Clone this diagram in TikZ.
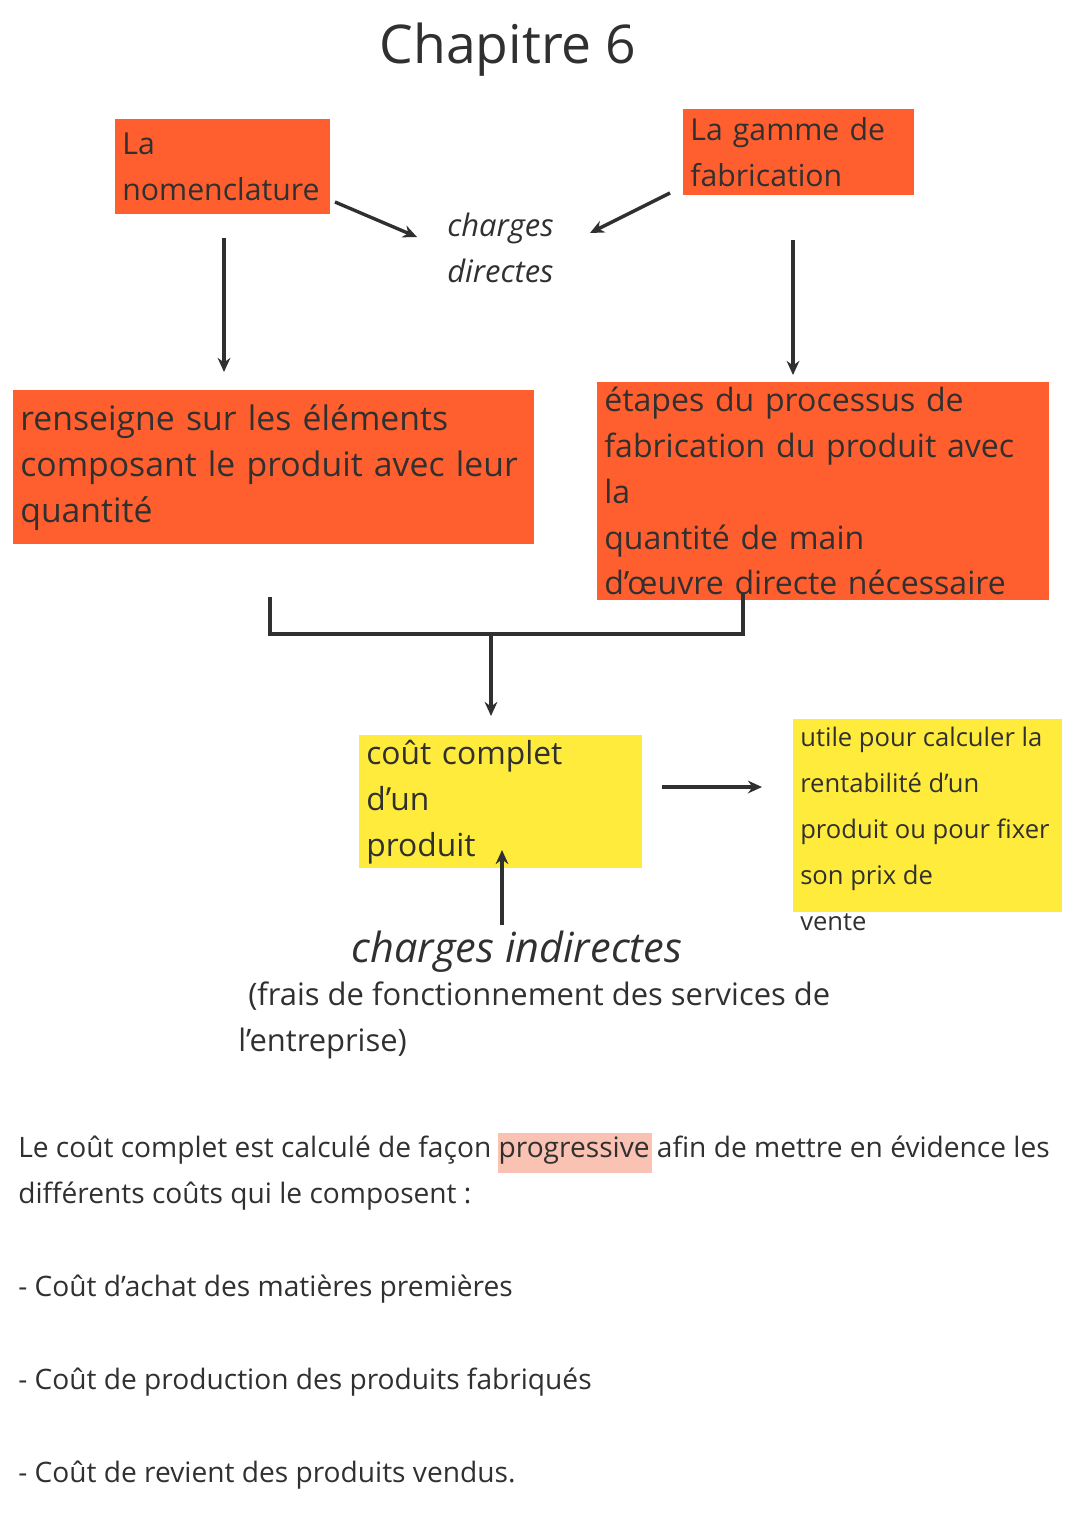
\documentclass[tikz,border=0pt]{standalone}
\usepackage{fontspec}
\setmainfont{Open Sans}
\usetikzlibrary{positioning,arrows.meta}
\definecolor{orangebox}{HTML}{FF5F2E}
\definecolor{yellowbox}{HTML}{FFEB3B}
\definecolor{highlight}{HTML}{F9C2B2}
\definecolor{ink}{HTML}{303030}

\begin{document}
\begin{tikzpicture}[x=0.025cm,y=-0.025cm,
						orange/.style={rectangle,fill=orangebox,anchor=north west,align=left,inner xsep=5pt,text=ink},
						yellow/.style={rectangle,fill=yellowbox,anchor=north west,align=left,inner xsep=5pt,text=ink},
						plain/.style={anchor=north west,align=left,inner sep=0pt,text=ink},
						arrow/.style={draw=ink,line width=2.4pt,-{Stealth[length=10pt,width=9pt]}}]
		\useasboundingbox (0,0) rectangle (1080,1528);
		\node[text=ink,font=\fontsize{38}{40}\selectfont]	(title)	at (508,50)	{Chapitre 6};

		\node[orange,minimum width=215*0.025cm,text width=201*0.025cm,minimum height=95*0.025cm,font=\fontsize{21.5}{32.6}\selectfont]	(nomen)	at (115,119)	{La\\nomenclature};
		\node[orange,minimum width=231*0.025cm,text width=217*0.025cm,minimum height=86*0.025cm,font=\fontsize{21.5}{32.6}\selectfont]	(gamme)	at (683,109)	{La gamme de\\fabrication};
		\node[plain,font=\fontsize{22}{32.6}\itshape]	(direct)	at (447,213)	{charges\\directes};
		\node[orange,minimum width=521*0.025cm,text width=507*0.025cm,minimum height=154*0.025cm,font=\fontsize{24}{32.6}\selectfont]	(rens)	at (13,390)	{renseigne sur les éléments\\composant le produit avec leur\\quantité};
		\node[orange,minimum width=452*0.025cm,text width=438*0.025cm,minimum height=188*0.025cm,font=\fontsize{22.8}{32.6}\selectfont]	(etapes)	at (597,382)	{étapes du processus de\\fabrication du produit avec la\\quantité de main\\d’œuvre directe nécessaire};
		\node[yellow,minimum width=283*0.025cm,text width=269*0.025cm,minimum height=95*0.025cm,font=\fontsize{22.6}{32.6}\selectfont]	(cout)	at (359,735)	{coût complet d’un\\produit};
		\node[yellow,minimum width=269*0.025cm,minimum height=193*0.025cm]	(utile)	at (793,719)	{};
		\node[plain,font=\fontsize{18.2}{32.6}\selectfont]	(utiletxt)	at (800,727)	{utile pour calculer la\\rentabilité d’un\\produit ou pour fixer\\son prix de\\vente};
		\node[text=ink,font=\fontsize{29.5}{30}\itshape]	(indirect)	at (517,952)	{charges indirectes};
		\node[plain,font=\fontsize{22}{32.6}\selectfont]	(frais)	at (248,982)	{(frais de fonctionnement des services de};
		\node[plain,font=\fontsize{22}{32.6}\selectfont]	(entre)	at (238,1028)	{l’entreprise)};

		\fill[highlight] (498,1133) rectangle (652,1173);
		\node[plain,font=\fontsize{20}{32.6}\selectfont]	(para)	at (18,1136)	{Le coût complet est calculé de façon progressive afin de mettre en évidence les\\différents coûts qui le composent :};
		\node[plain,font=\fontsize{20}{32.6}\selectfont]	(item1)	at (18,1275)	{- Coût d’achat des matières premières};
		\node[plain,font=\fontsize{20}{32.6}\selectfont]	(item2)	at (18,1368)	{- Coût de production des produits fabriqués};
		\node[plain,font=\fontsize{20}{32.6}\selectfont]	(item3)	at (18,1461)	{- Coût de revient des produits vendus.};

		\coordinate (a1) at (335,202);	\coordinate (a2) at (417,237);
		\coordinate (b1) at (670,193);	\coordinate (b2) at (590,233);
		\coordinate (c1) at (224,238);	\coordinate (c2) at (224,372);
		\coordinate (d1) at (793,240);	\coordinate (d2) at (793,375);
		\coordinate (e1) at (270,597);	\coordinate (e2) at (743,593);
		\coordinate (f1) at (491,634);	\coordinate (f2) at (491,716);
		\coordinate (g1) at (662,787);	\coordinate (g2) at (762,787);
		\coordinate (h1) at (502,925);	\coordinate (h2) at (502,850);

		\draw[arrow] (a1) -- (a2);
		\draw[arrow] (b1) -- (b2);
		\draw[arrow] (c1) -- (c2);
		\draw[arrow] (d1) -- (d2);
		\draw[draw=ink,line width=2.4pt] (e1) |- (f1) -| (e2);
		\draw[arrow] (f1) -- (f2);
		\draw[arrow] (g1) -- (g2);
		\draw[arrow] (h1) -- (h2);
	\end{tikzpicture}
\end{document}
